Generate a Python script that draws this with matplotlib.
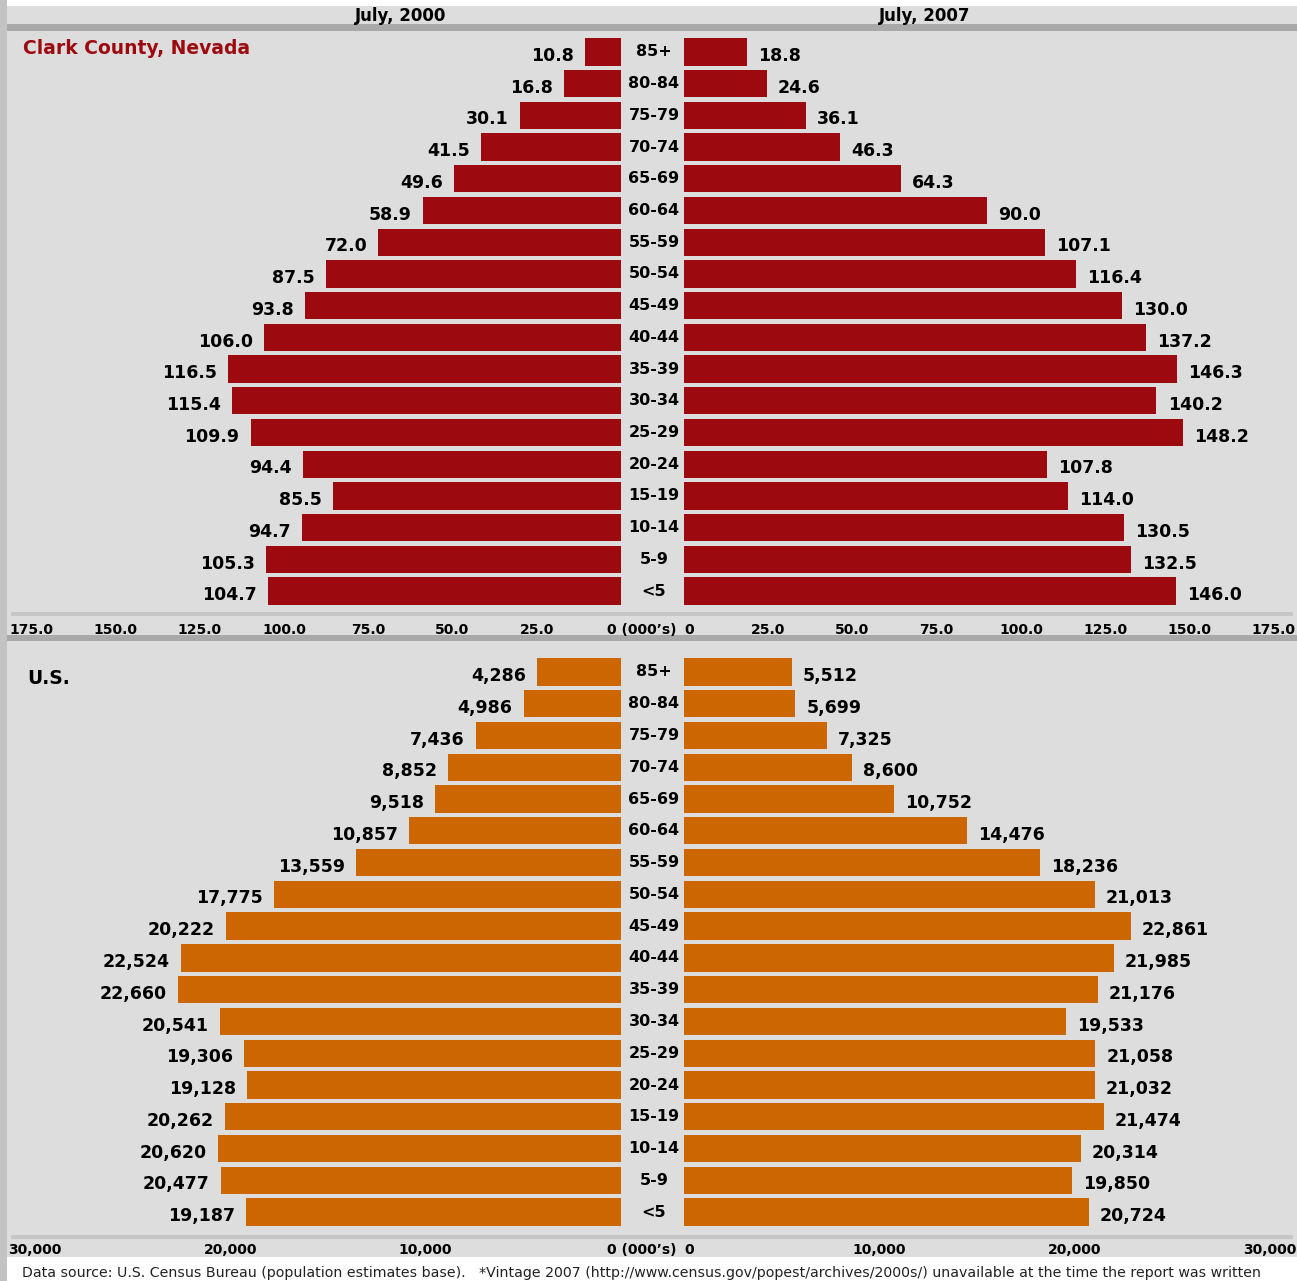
import matplotlib
matplotlib.use("Agg")
import matplotlib.pyplot as plt
from matplotlib.patches import Rectangle
from matplotlib.transforms import blended_transform_factory

W, H = 1297, 1281

ages = ["85+", "80-84", "75-79", "70-74", "65-69", "60-64", "55-59", "50-54", "45-49",
        "40-44", "35-39", "30-34", "25-29", "20-24", "15-19", "10-14", "5-9", "<5"]

clark_2000 = [10.8, 16.8, 30.1, 41.5, 49.6, 58.9, 72.0, 87.5, 93.8,
              106.0, 116.5, 115.4, 109.9, 94.4, 85.5, 94.7, 105.3, 104.7]
clark_2007 = [18.8, 24.6, 36.1, 46.3, 64.3, 90.0, 107.1, 116.4, 130.0,
              137.2, 146.3, 140.2, 148.2, 107.8, 114.0, 130.5, 132.5, 146.0]
us_2000 = [4286, 4986, 7436, 8852, 9518, 10857, 13559, 17775, 20222,
           22524, 22660, 20541, 19306, 19128, 20262, 20620, 20477, 19187]
us_2007 = [5512, 5699, 7325, 8600, 10752, 14476, 18236, 21013, 22861,
           21985, 21176, 19533, 21058, 21032, 21474, 20314, 19850, 20724]

clark_ticks = [175, 150, 125, 100, 75, 50, 25]
us_ticks = [30000, 20000, 10000]

RED = "#9c0a10"
ORANGE = "#cc6600"
BG = "#dddddd"
DARK = "#a9a9a9"
LINE = "#c6c6c6"

fig = plt.figure(figsize=(W / 100, H / 100), dpi=100)
fig.patch.set_facecolor("white")


def box(x0, y0, x1, y1):
    # pixel box (top-left origin) -> figure fraction rect
    return [x0 / W, 1 - y1 / H, (x1 - x0) / W, (y1 - y0) / H]


def rect(x0, y0, x1, y1, color):
    b = box(x0, y0, x1, y1)
    fig.add_artist(Rectangle((b[0], b[1]), b[2], b[3], transform=fig.transFigure,
                             facecolor=color, edgecolor="none", zorder=0))


# background pieces
rect(0, 6, W, 1257, BG)
rect(7, 24, W, 31, DARK)
rect(7, 635, W, 641, DARK)
rect(11, 612, 1293, 616, LINE)
rect(11, 1235, 1293, 1239, LINE)
rect(0, 0, 7, H, "#c3c3c3")

fig.text(401 / W, 1 - 16 / H, "July, 2000", ha="center", va="center",
         fontsize=12, fontweight="bold")
fig.text(925 / W, 1 - 16 / H, "July, 2007", ha="center", va="center",
         fontsize=12, fontweight="bold")


def fmt_tick(t):
    return f"{t:,}" if t >= 1000 else f"{t:.1f}"


def panel(y0, y1, left, right, color, scale, fmt, ticks, tick_y):
    lmax = (621 - 10) / scale
    rmax = (W - 684) / scale
    axl = fig.add_axes(box(10, y0, 621, y1))
    axr = fig.add_axes(box(684, y0, W, y1))
    rows = list(range(len(ages)))
    for ax, vals, lim, side in [(axl, left, (lmax, 0), -1), (axr, right, (0, rmax), 1)]:
        ax.barh(rows, vals, height=0.86, color=color)
        ax.set_xlim(*lim)
        ax.set_ylim(len(ages) - 0.5, -0.5)
        ax.axis("off")
        ax.patch.set_alpha(0)
        for i, v in enumerate(vals):
            ax.annotate(fmt(v), xy=(v, i), xytext=(side * 8, -3), textcoords="offset points",
                        ha="left" if side > 0 else "right", va="center",
                        fontsize=12.5, fontweight="bold")
        tr = blended_transform_factory(ax.transData, fig.transFigure)
        for t in ticks:
            ax.text(t, 1 - tick_y / H, fmt_tick(t), transform=tr, ha="center", va="center",
                    fontsize=10, fontweight="bold")
    for i, a in enumerate(ages):
        axl.annotate(a, xy=(0, i), xytext=(654 - 621, 0), textcoords="offset pixels",
                     ha="center", va="center", fontsize=11.5, fontweight="bold")
    fig.text(607 / W, 1 - tick_y / H, "0 (000\u2019s)", ha="left", va="center",
             fontsize=10, fontweight="bold")
    fig.text(689 / W, 1 - tick_y / H, "0", ha="center", va="center",
             fontsize=10, fontweight="bold")


panel(36, 607, clark_2000, clark_2007, RED, 3.37, lambda v: f"{v:.1f}", clark_ticks, 630)
panel(656, 1228, us_2000, us_2007, ORANGE, 0.01954, lambda v: f"{v:,}", us_ticks, 1250)

fig.text(23 / W, 1 - 49 / H, "Clark County, Nevada", ha="left", va="center",
         fontsize=13.5, fontweight="bold", color=RED)
fig.text(27 / W, 1 - 678 / H, "U.S.", ha="left", va="center",
         fontsize=13.5, fontweight="bold", color="black")

fig.text(22 / W, 1 - 1273 / H,
         "Data source: U.S. Census Bureau (population estimates base).   "
         "*Vintage 2007 (http://www.census.gov/popest/archives/2000s/) unavailable at the time the report was written",
         ha="left", va="center", fontsize=10.2, color="#222222")

fig.savefig("out.png", dpi=100)
